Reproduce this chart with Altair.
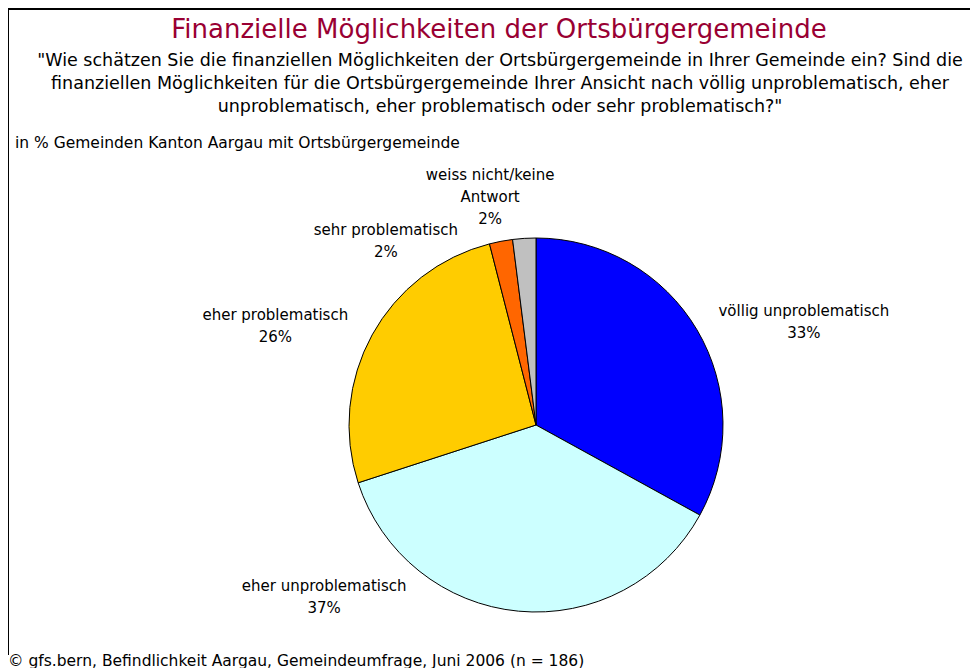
import math
import altair as alt
import pandas as pd

# ---- data ----
categories = ["völlig unproblematisch", "eher unproblematisch", "eher problematisch",
              "sehr problematisch", "weiss nicht/keine Antwort"]
label_texts = ["völlig unproblematisch", "eher unproblematisch", "eher problematisch",
               "sehr problematisch", "weiss nicht/keine\nAntwort"]
values = [33, 37, 26, 2, 2]
colors = ["#0000FF", "#CCFFFF", "#FFCC00", "#FF6600", "#C0C0C0"]

title_text = "Finanzielle Möglichkeiten der Ortsbürgergemeinde"
subtitle_lines = [
    "\"Wie schätzen Sie die finanziellen Möglichkeiten der Ortsbürgergemeinde in Ihrer Gemeinde ein? Sind die",
    "finanziellen Möglichkeiten für die Ortsbürgergemeinde Ihrer Ansicht nach völlig unproblematisch, eher",
    "unproblematisch, eher problematisch oder sehr problematisch?\"",
]
unit_text = "in % Gemeinden Kanton Aargau mit Ortsbürgergemeinde"
source_text = "© gfs.bern, Befindlichkeit Aargau, Gemeindeumfrage, Juni 2006 (n = 186)"

# ---- layout (label placement around the pie, polar: degrees from north, px) ----
label_angle_deg = [67.0, 232.8, 292.9, 322.4, 349.6]
label_radius_px = [291, 266, 283, 246, 254]

FONT = "DejaVu Sans"
W, H = 962, 660
CX, CY, R = 528, 417, 187

df = pd.DataFrame({
    "cat": categories,
    "value": values,
    "order": list(range(len(categories))),
    "label": [f"{t}\n{v}%" for t, v in zip(label_texts, values)],
    "ang": label_angle_deg,
    "rad": label_radius_px,
})

color_scale = alt.Scale(domain=categories, range=colors)

pie = alt.Chart(df).mark_arc(outerRadius=R, stroke="black", strokeWidth=1).encode(
    theta=alt.Theta("value:Q", stack=True),
    order=alt.Order("order:Q"),
    color=alt.Color("cat:N", scale=color_scale, legend=None),
    x=alt.value(CX), y=alt.value(CY),
)

labels = alt.Chart(df).mark_text(
    font=FONT, fontSize=15, color="black", align="center", baseline="middle",
    lineBreak="\n", lineHeight=22,
).transform_calculate(
    th="datum.ang * PI / 180"
).encode(
    theta=alt.Theta("th:Q", scale=None),
    radius=alt.Radius("rad:Q", scale=None),
    text="label:N",
    x=alt.value(CX), y=alt.value(CY),
)

def txt(text, x, y, size, align="center", color="black", lh=None):
    kw = dict(font=FONT, fontSize=size, color=color, align=align, baseline="middle")
    if lh is not None:
        kw.update(lineBreak="\n", lineHeight=lh)
    return alt.Chart(pd.DataFrame({"t": [text]})).mark_text(**kw).encode(
        text="t:N", x=alt.value(x), y=alt.value(y))

title = txt(title_text, 491, 22, 26, color="#990033")
sub = txt("\n".join(subtitle_lines), 492, 53, 17.5, lh=23)
unit = txt(unit_text, 7, 135, 15.5, align="left")
source = txt(source_text, 0, 653, 15.5, align="left")

frame_top = alt.Chart(pd.DataFrame({"a": [0]})).mark_rule(color="black", strokeWidth=2).encode(
    x=alt.value(0), x2=alt.value(W), y=alt.value(1))
frame_left = alt.Chart(pd.DataFrame({"a": [0]})).mark_rule(color="black", strokeWidth=2).encode(
    x=alt.value(0), y=alt.value(0), y2=alt.value(647))

chart = alt.layer(frame_top, frame_left, pie, labels, title, sub, unit, source).properties(
    width=W, height=H, autosize=alt.AutoSizeParams(type="none"), padding=0,
    background="white",
).configure_view(stroke=None)

chart.save("out.html", embed_options={"renderer": "svg", "actions": False})
